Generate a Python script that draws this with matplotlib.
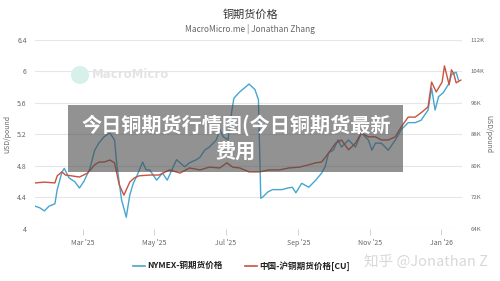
import matplotlib
matplotlib.use("Agg")
import matplotlib.pyplot as plt
import matplotlib.dates as mdates
from matplotlib.patches import Rectangle, Circle
import pandas as pd

plt.rcParams['font.family'] = ['Noto Sans CJK SC', 'DejaVu Sans']

title = "铜期货价格"
subtitle = "MacroMicro.me | Jonathan Zhang"
overlay_text = "今日铜期货行情图(今日铜期货最新\n费用"
series_names = ["NYMEX-铜期货价格", "中国-沪铜期货价格[CU]"]
left_ticks = [4, 4.4, 4.8, 5.2, 5.6, 6, 6.4]
right_ticks = [64000, 72000, 80000, 88000, 96000, 104000, 112000]

nymex_dates = ["2025-01-19", "2025-01-23", "2025-01-27", "2025-01-31", "2025-02-05", "2025-02-07",
               "2025-02-11", "2025-02-13", "2025-02-17", "2025-02-22", "2025-02-26", "2025-03-02",
               "2025-03-07", "2025-03-11", "2025-03-15", "2025-03-19", "2025-03-24", "2025-03-28",
               "2025-03-30", "2025-04-03", "2025-04-07", "2025-04-10", "2025-04-13", "2025-04-16",
               "2025-04-21", "2025-04-24", "2025-04-27", "2025-05-03", "2025-05-08", "2025-05-12",
               "2025-05-16", "2025-05-20", "2025-05-23", "2025-05-27", "2025-05-31", "2025-06-06",
               "2025-06-09", "2025-06-13", "2025-06-17", "2025-06-23", "2025-06-26", "2025-06-29",
               "2025-07-03", "2025-07-05", "2025-07-08", "2025-07-13", "2025-07-17", "2025-07-21",
               "2025-07-26", "2025-07-29", "2025-07-31", "2025-08-02", "2025-08-06", "2025-08-10",
               "2025-08-14", "2025-08-18", "2025-08-23", "2025-08-27", "2025-08-30", "2025-09-04",
               "2025-09-10", "2025-09-16", "2025-09-21", "2025-09-24", "2025-09-27", "2025-10-01",
               "2025-10-05", "2025-10-08", "2025-10-14", "2025-10-20", "2025-10-25", "2025-10-31",
               "2025-11-03", "2025-11-06", "2025-11-11", "2025-11-17", "2025-11-23", "2025-11-28",
               "2025-12-04", "2025-12-10", "2025-12-15", "2025-12-21", "2025-12-24", "2025-12-27",
               "2025-12-30", "2026-01-03", "2026-01-08", "2026-01-10", "2026-01-14", "2026-01-16"]
nymex_values = [4.29, 4.27, 4.23, 4.29, 4.32, 4.50,
                4.72, 4.77, 4.65, 4.60, 4.52, 4.61,
                4.77, 5.00, 5.10, 5.17, 5.22, 5.13,
                4.81, 4.37, 4.15, 4.43, 4.58, 4.67,
                4.85, 4.75, 4.75, 4.62, 4.71, 4.62,
                4.75, 4.88, 4.84, 4.79, 4.84, 4.88,
                4.91, 5.00, 5.04, 5.13, 5.26, 5.17,
                5.13, 5.38, 5.66, 5.74, 5.79, 5.84,
                5.77, 5.64, 4.39, 4.41, 4.47, 4.50,
                4.50, 4.50, 4.52, 4.53, 4.46, 4.58,
                4.53, 4.62, 4.71, 4.79, 4.97, 5.00,
                5.13, 5.04, 5.13, 5.04, 5.22, 5.13,
                5.00, 5.09, 5.09, 5.00, 5.13, 5.26,
                5.35, 5.35, 5.38, 5.51, 5.79, 5.51,
                5.68, 5.73, 5.85, 5.96, 5.99, 5.89]

shfe_dates = ["2025-01-19", "2025-01-27", "2025-02-05", "2025-02-07", "2025-02-11", "2025-02-14",
              "2025-02-19", "2025-02-26", "2025-03-05", "2025-03-11", "2025-03-15", "2025-03-19",
              "2025-03-24", "2025-03-28", "2025-04-01", "2025-04-05", "2025-04-10", "2025-04-14",
              "2025-04-18", "2025-04-27", "2025-05-05", "2025-05-14", "2025-05-23", "2025-05-31",
              "2025-06-09", "2025-06-17", "2025-06-26", "2025-07-02", "2025-07-07", "2025-07-13",
              "2025-07-21", "2025-07-30", "2025-08-07", "2025-08-16", "2025-08-24", "2025-09-02",
              "2025-09-10", "2025-09-16", "2025-09-21", "2025-09-27", "2025-10-03", "2025-10-08",
              "2025-10-14", "2025-10-20", "2025-10-25", "2025-10-31", "2025-11-06", "2025-11-11",
              "2025-11-17", "2025-11-23", "2025-11-28", "2025-12-04", "2025-12-10", "2025-12-15",
              "2025-12-21", "2025-12-24", "2025-12-28", "2026-01-02", "2026-01-04", "2026-01-08",
              "2026-01-10", "2026-01-12", "2026-01-14", "2026-01-18"]
shfe_values = [75700, 75900, 75700, 77500, 78500, 77700,
               77500, 77200, 78200, 80300, 81000, 81000,
               81500, 80800, 75200, 72600, 75900, 77000,
               77500, 77700, 77700, 79000, 78200, 79500,
               79000, 79700, 79500, 80800, 79700, 79500,
               78500, 78500, 79000, 79000, 79500, 79700,
               80300, 80800, 81000, 83300, 85800, 86600,
               84100, 85800, 88400, 87400, 87400, 86600,
               86600, 87400, 89900, 92400, 92400, 93500,
               95000, 101300, 98800, 101300, 105400, 100600,
               104400, 103400, 101100, 101800]

BLUE = "#45a6cf"
RED = "#c8533d"
GRID = "#e6e6e6"
TXT = "#666666"

fig = plt.figure(figsize=(5, 2.81), dpi=100)
ax = fig.add_axes([0.07, 0.185, 0.854, 0.673])
ax2 = ax.twinx()

ax.plot(pd.to_datetime(nymex_dates), nymex_values, color=BLUE, lw=1.0, zorder=3)
ax2.plot(pd.to_datetime(shfe_dates), shfe_values, color=RED, lw=1.0, zorder=3)

ax.set_ylim(4, 6.4)
ax2.set_ylim(64000, 112000)
ax.set_yticks(left_ticks)
ax.set_yticklabels([("%g" % v) for v in left_ticks])
ax2.set_yticks(right_ticks)
ax2.set_yticklabels(["%dK" % (v // 1000) for v in right_ticks])
ax.set_xlim(pd.Timestamp("2025-01-19"), pd.Timestamp("2026-01-19"))
ax.xaxis.set_major_locator(mdates.MonthLocator(bymonth=[1, 3, 5, 7, 9, 11]))
ax.xaxis.set_major_formatter(mdates.DateFormatter("%b '%y"))

ax.grid(axis='y', color=GRID, lw=0.8)
ax.set_axisbelow(True)
for a in (ax, ax2):
    for s in a.spines.values():
        s.set_visible(False)
ax.tick_params(axis='y', length=0, labelsize=5, labelcolor=TXT, pad=6)
ax2.tick_params(axis='y', length=0, labelsize=4.3, labelcolor=TXT, pad=6)
ax.tick_params(axis='x', length=4, width=0.6, color="#cccccc", labelsize=5, labelcolor=TXT, pad=3)
ax.set_ylabel("USD/pound", fontsize=5, color=TXT, labelpad=4)
ax2.set_ylabel("USD/pound", fontsize=5, color=TXT, rotation=270, labelpad=6)

fig.text(0.5, 0.947, title, ha='center', va='center', fontsize=8, color="#333333")
fig.text(0.5, 0.898, subtitle, ha='center', va='center', fontsize=6, color=TXT)

# MacroMicro watermark
fig.patches.append(Circle((80, 206), 9, transform=None, facecolor="#d6f1ea", edgecolor='none'))
fig.text(0.184, 0.735, "MacroMicro", ha='left', va='center', fontsize=8.5,
         color="#e4e4e4", fontweight='bold', family=['DejaVu Sans'])

# legend
leg_y = 0.054
fig.add_artist(plt.Line2D([0.266, 0.29], [leg_y, leg_y], color=BLUE, lw=1.2, transform=fig.transFigure))
fig.text(0.295, leg_y, series_names[0], ha='left', va='center', fontsize=6.2, color="#222222", fontweight='bold')
fig.add_artist(plt.Line2D([0.49, 0.514], [leg_y, leg_y], color=RED, lw=1.2, transform=fig.transFigure))
fig.text(0.519, leg_y, series_names[1], ha='left', va='center', fontsize=6.2, color="#222222", fontweight='bold')

# overlay box
fig.patches.append(Rectangle((68 / 500, 1 - 172 / 281), 335 / 500, 67 / 281, transform=fig.transFigure,
                             facecolor="#4a4a4a", alpha=0.6, edgecolor='none', zorder=5))
fig.text(236 / 500, 1 - 138 / 281, overlay_text, ha='center', va='center', fontsize=14.5,
         color='white', fontweight='bold', linespacing=1.25, zorder=6)

# zhihu watermark
fig.text(0.975, 0.067, "知乎 @Jonathan Z", ha='right', va='center', fontsize=10.5,
         color="#d8d8d8", zorder=6)

fig.savefig("out.png", dpi=100)
